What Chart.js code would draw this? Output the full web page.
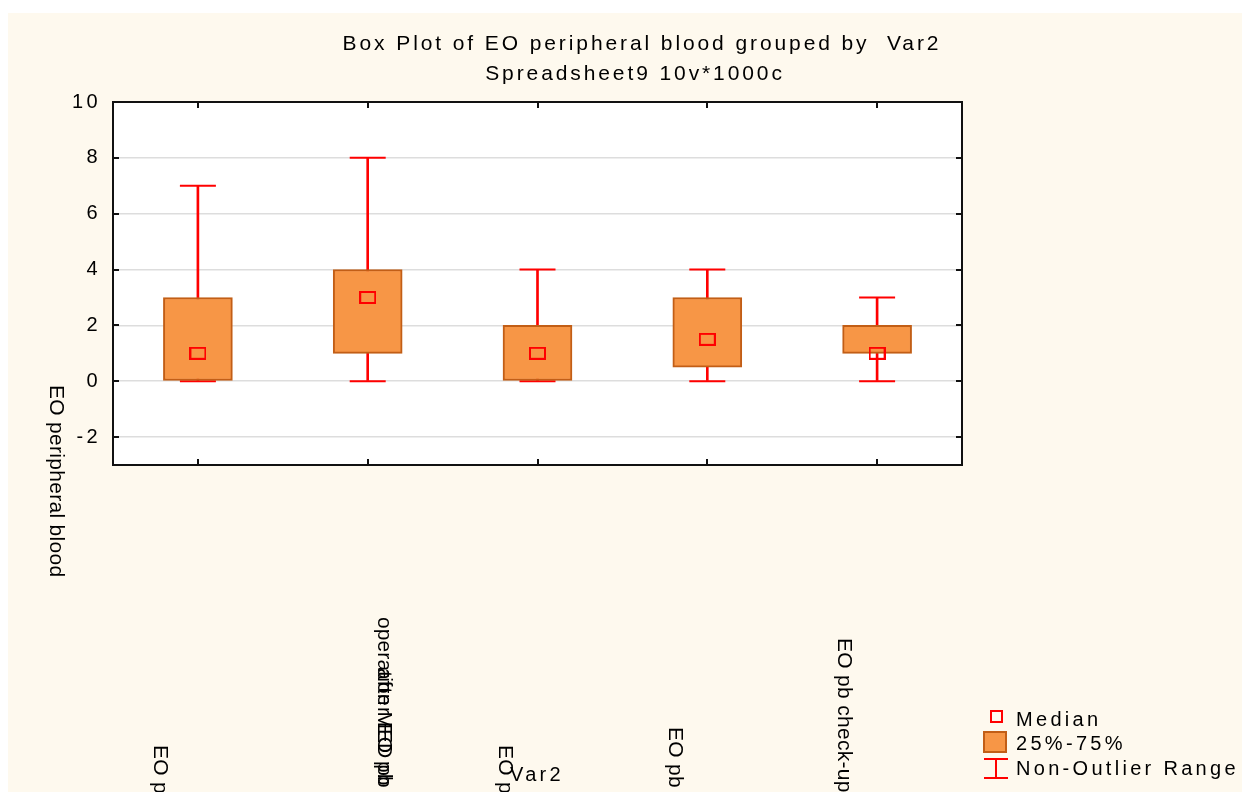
<!DOCTYPE html>
<html><head><meta charset="utf-8">
<script src="https://cdn.jsdelivr.net/npm/chart.js@4.4.1/dist/chart.umd.min.js"></script>
<style>html,body{margin:0;padding:0;background:#fff;overflow:hidden}canvas{display:block}</style>
</head><body>
<canvas id="c" width="1242" height="792"></canvas>
<script>
// ---- data ----
const categories = ['EO pb', ['operation MED pb', 'after EO pb'], 'EO pb', 'EO pb', 'EO pb check-up'];
const whiskerLow  = [0, 0, 0, 0, 0];
const whiskerHigh = [7, 8, 4, 4, 3];
const q1      = [0, 1, 0, 0.5, 1];
const q3      = [3, 4, 2, 3, 2];
const medians = [1, 3, 1, 1.5, 1];
const yTickValues = [-2, 0, 2, 4, 6, 8, 10];
const titleText = 'Box Plot of EO peripheral blood grouped by  Var2';
const subtitleText = 'Spreadsheet9 10v*1000c';
const yTitle = 'EO peripheral blood';
const xTitle = 'Var2';
const legendLabels = ['Median', '25%-75%', 'Non-Outlier Range'];

// ---- style / layout ----
const RED = '#FF0000', BOX_FILL = '#F79646', BOX_EDGE = '#C25E16';
const FONT = '"Liberation Sans", Arial, sans-serif';
const xLabelLayout = [
  {dx: -38, y: [745], sp: [0.3]},
  {dx: 16, y: [617, 668], sp: [0.1, 1.0]},
  {dx: -33, y: [745], sp: [0.3]},
  {dx: -33, y: [727], sp: [0.3]},
  {dx: -33, y: [638], sp: [0.3]}
];

const medianMark = (() => {
  const c = document.createElement('canvas'); c.width = 17; c.height = 13;
  const g = c.getContext('2d'); g.strokeStyle = RED; g.lineWidth = 2; g.strokeRect(1, 1, 15, 11);
  return c;
})();

function rot(ctx, t, x, y, sp) {
  ctx.save(); ctx.translate(x, y); ctx.rotate(Math.PI / 2);
  ctx.letterSpacing = sp + 'px';
  ctx.textAlign = 'left'; ctx.textBaseline = 'middle'; ctx.fillText(t, 0, 0);
  ctx.restore();
}

const decor = {
  id: 'decor',
  beforeUpdate(chart) { chart.ctx.letterSpacing = '3.4px'; },
  beforeDraw(chart) {
    const {ctx, chartArea: a, width, height} = chart;
    ctx.save();
    ctx.fillStyle = '#FFFFFF'; ctx.fillRect(0, 0, width, height);
    ctx.fillStyle = '#FEF9EE'; ctx.fillRect(8, 13, width - 8, height - 13);
    ctx.fillStyle = '#FFFFFF'; ctx.fillRect(a.left, a.top, a.right - a.left, a.bottom - a.top);
    ctx.restore();
    ctx.letterSpacing = '3.4px';
  },
  afterDraw(chart) {
    const {ctx, chartArea: a} = chart;
    const xs = chart.scales.x, ys = chart.scales.y;
    ctx.save();
    ctx.strokeStyle = '#111'; ctx.lineWidth = 2;
    ctx.strokeRect(a.left, a.top, a.right - a.left, a.bottom - a.top);
    ctx.beginPath();
    yTickValues.forEach(v => {
      if (v === 10) return;
      const y = Math.round(ys.getPixelForValue(v));
      ctx.moveTo(a.left, y); ctx.lineTo(a.left + 6, y);
      ctx.moveTo(a.right, y); ctx.lineTo(a.right - 6, y);
    });
    categories.forEach((c, i) => {
      const x = Math.round(xs.getPixelForValue(i));
      ctx.moveTo(x, a.top); ctx.lineTo(x, a.top + 6);
      ctx.moveTo(x, a.bottom); ctx.lineTo(x, a.bottom - 6);
    });
    ctx.stroke();

    ctx.fillStyle = '#000'; ctx.font = '21px ' + FONT; ctx.letterSpacing = '2.9px';
    ctx.textAlign = 'center'; ctx.textBaseline = 'alphabetic';
    ctx.fillText(titleText, 642, 50);
    ctx.fillText(subtitleText, 635, 80);
    rot(ctx, yTitle, 56, 385, 0.3);
    categories.forEach((c, i) => {
      const lines = Array.isArray(c) ? c : [c];
      const L = xLabelLayout[i];
      lines.forEach((t, k) => rot(ctx, t, xs.getPixelForValue(i) + L.dx, L.y[k], L.sp[k]));
    });
    ctx.font = '20px ' + FONT; ctx.letterSpacing = '3.3px';
    ctx.textAlign = 'left';
    ctx.fillText(xTitle, 510, 781);
    const ly = [726, 750, 775];
    legendLabels.forEach((t, i) => ctx.fillText(t, 1016, ly[i]));

    ctx.lineWidth = 2;
    ctx.strokeStyle = RED; ctx.strokeRect(991, 711, 11, 11);
    ctx.fillStyle = BOX_FILL; ctx.fillRect(984, 732, 22, 20);
    ctx.strokeStyle = BOX_EDGE; ctx.strokeRect(984, 732, 22, 20);
    ctx.strokeStyle = RED; ctx.beginPath();
    ctx.moveTo(984, 759); ctx.lineTo(1008, 759);
    ctx.moveTo(996, 759); ctx.lineTo(996, 778);
    ctx.moveTo(984, 778); ctx.lineTo(1008, 778);
    ctx.stroke();
    ctx.restore();
  }
};

const capDs = (label, data) => ({
  label, type: 'line', data, showLine: false, pointStyle: 'line',
  pointRadius: 18, pointHoverRadius: 18, pointBorderColor: RED, pointBackgroundColor: RED,
  pointBorderWidth: 2, pointHoverBorderWidth: 2, order: 4
});

new Chart(document.getElementById('c'), {
  type: 'bar',
  data: {
    labels: categories,
    datasets: [
      {label: 'Non-Outlier Range', data: whiskerLow.map((v, i) => [v, whiskerHigh[i]]),
       backgroundColor: RED, barThickness: 2, grouped: false, order: 5},
      capDs('low', whiskerLow),
      capDs('high', whiskerHigh),
      {label: '25%-75%', data: q1.map((v, i) => [v, q3[i]]), backgroundColor: BOX_FILL,
       borderColor: BOX_EDGE, borderWidth: 2, borderSkipped: false, barThickness: 69, grouped: false, order: 2},
      {label: 'Median', type: 'line', data: medians, showLine: false, pointStyle: medianMark,
       pointRadius: 8, pointHoverRadius: 8, order: 0}
    ]
  },
  options: {
    responsive: false, animation: false, devicePixelRatio: 1, events: [],
    layout: {padding: {left: 8, right: 280, top: 102, bottom: 327}},
    plugins: {legend: {display: false}, title: {display: false}, tooltip: {enabled: false}},
    scales: {
      x: {offset: true, grid: {display: false, drawTicks: false}, border: {display: false},
          ticks: {display: false}, afterFit: s => { s.height = 0; }},
      y: {min: -3, max: 10,
          afterBuildTicks: s => { s.ticks = yTickValues.map(v => ({value: v})); },
          afterFit: s => { s.width = 105; },
          grid: {color: c => (c.tick && c.tick.value === 10) ? 'rgba(0,0,0,0)' : '#DDDDDD', lineWidth: 1.5, drawTicks: false},
          border: {display: false},
          ticks: {font: {family: FONT, size: 20}, color: '#000', padding: 12}}
    }
  },
  plugins: [decor]
});
</script>
</body></html>
